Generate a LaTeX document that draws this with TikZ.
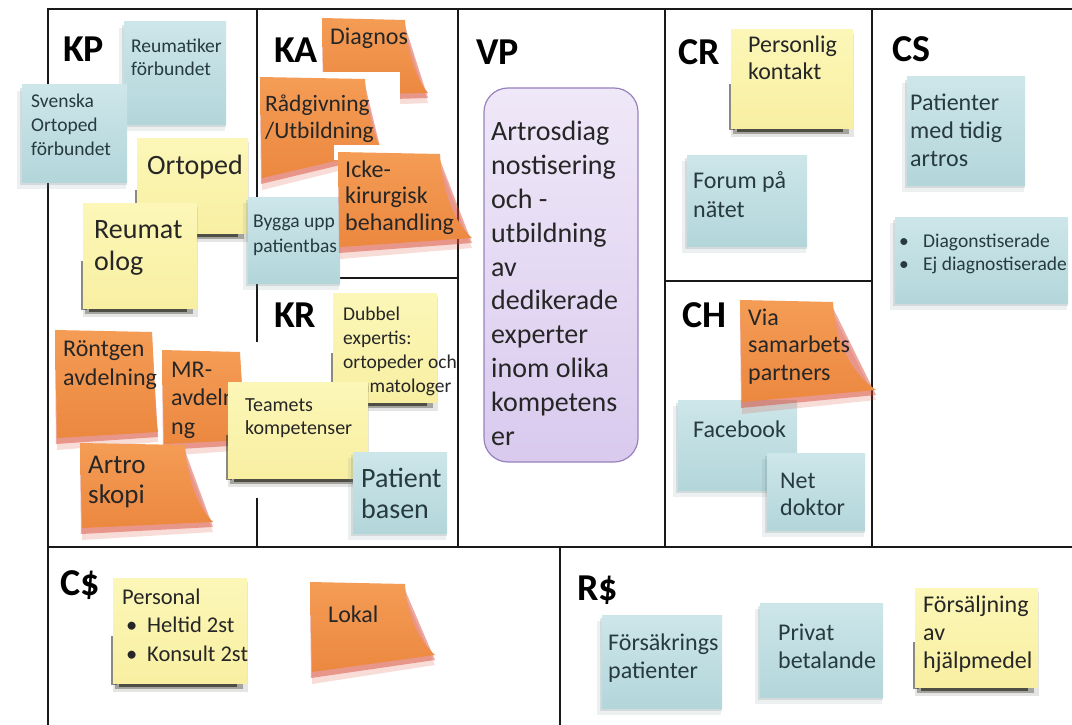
\documentclass[tikz,border=0pt]{standalone}
\usepackage{fontspec}
\setmainfont{Carlito}
\definecolor{bluetop}{HTML}{CDE6E9}
\definecolor{bluebot}{HTML}{B3D6DB}
\definecolor{yeltop}{HTML}{FCF7B8}
\definecolor{yelbot}{HTML}{F8EFA2}
\definecolor{oratop}{HTML}{F49C55}
\definecolor{orabot}{HTML}{EC8840}
\definecolor{orashadow}{HTML}{D8412C}
\definecolor{yelshadow}{HTML}{2B2A1E}
\definecolor{blueshadow}{HTML}{6F8587}
\definecolor{vptop}{HTML}{EFE8F8}
\definecolor{vpbot}{HTML}{D9CAEE}
\definecolor{vpline}{HTML}{9882BE}
\definecolor{inkdark}{HTML}{262626}
\definecolor{inkblue}{HTML}{263A40}

% blue sticky note: x1 y1 x2 y2
\newcommand\bluenote[4]{%
  \fill[blueshadow, opacity=.12] (#1-5,#2+6) rectangle (#3-1,#4+7);
  \fill[blueshadow, opacity=.2] (#1-2,#2+3) rectangle (#3,#4+3);
  \path[top color=bluetop, bottom color=bluebot] (#1,#2) rectangle (#3,#4);}
% yellow sticky note: x1 y1 x2 y2
\newcommand\yellownote[4]{%
  \fill[yelshadow, opacity=.12] (#1,#2+4) rectangle (#3+1,#4+9);
  \fill[yelshadow, opacity=.35] (#1+2,#4-6) rectangle (#3-4,#4+6);
  \fill[yelshadow, opacity=.7] (#1+6,#4-6) rectangle (#3-10,#4+4);
  \fill[yelshadow, opacity=.55] (#1-2,{#2+0.55*(#4-#2)}) rectangle (#1+4,#4+2);
  \path[top color=yeltop, bottom color=yelbot] (#1,#2) rectangle (#3,#4);}
% orange sticky note with a lifted corner: x1 y1 x2 y2 tipx tipy
\newcommand\orangenote[6]{%
  \fill[orashadow, opacity=.18] (#1+2,#2+12) -- (#3,#2+14) -- (#5,#6+10) -- (#1+2,#4+12) -- cycle;
  \fill[orashadow, opacity=.45] (#1,#2+6) -- (#3,#2+8) -- (#5,#6+5) -- (#1+1,#4+6) -- cycle;
  \path[top color=oratop, bottom color=orabot] (#1,#2) -- (#3,#2+2)
    .. controls (#3+3,{#2+0.6*(#6-#2)}) and ({#5-0.35*(#5-#3)},#6-10) .. (#5,#6)
    -- (#1+2,#4) -- cycle;}

% multi-line texts are placed by the baseline of their last line
\tikzset{
  ntxt/.style={anchor=base west, inner sep=0pt, align=left, text=inkdark},
  btxt/.style={ntxt, text=inkblue},
  sz/.style 2 args={font=\fontsize{#1}{#2}\selectfont},
  blocktitle/.style={anchor=base west, inner sep=0pt, font=\fontsize{38}{40}\selectfont\bfseries, text=black},
  canvasline/.style={line width=2.6pt, draw=black!90}
}

\begin{document}
\begin{tikzpicture}[x=1pt,y=-1pt]
\fill[white] (0,0) rectangle (1072,725);
\useasboundingbox (0,0) rectangle (1072,725);

% canvas frame and block dividers
\draw[canvasline] (1072,9) -- (48,9) -- (48,725);
\draw[canvasline] (48,547) -- (1072,547);
\draw[canvasline] (257,9) -- (257,342);
\draw[canvasline] (257,498) -- (257,547);
\draw[canvasline] (458,9) -- (458,547);
\draw[canvasline] (665,9) -- (665,547);
\draw[canvasline] (872,9) -- (872,547);
\draw[canvasline] (257,278) -- (458,278);
\draw[canvasline] (665,281) -- (872,281);
\draw[canvasline] (560,547) -- (560,725);

% block titles
\node[blocktitle] (kp) at (63,62) {KP};
\node[blocktitle] (ka) at (274,63) {KA};
\node[blocktitle] (vp) at (476,65) {VP};
\node[blocktitle] (cr) at (678,65) {CR};
\node[blocktitle] (cs) at (892,62) {CS};
\node[blocktitle] (kr) at (274,327) {KR};
\node[blocktitle] (ch) at (682,327) {CH};
\node[blocktitle] (cost) at (60,595) {C\$};
\node[blocktitle] (rev) at (577,600) {R\$};

% key partners
\bluenote{124}{22}{226}{124}
\node[btxt, sz={19.5}{23}] (reumforb) at (131,76) {Reumatiker\\förbundet};
\bluenote{22}{85}{127}{182}
\node[btxt, sz={19.5}{24}] (svenska) at (31,155) {Svenska\\Ortoped\\förbundet};
\yellownote{137}{138}{248}{233}
\node[ntxt, sz={28}{32}] (ortoped) at (147,174) {Ortoped};
\yellownote{83}{203}{197}{308}
\node[ntxt, sz={28}{32}] (reumat) at (94,270) {Reumat\\olog};
\orangenote{55}{330}{152}{438}{158}{432}
\node[ntxt, sz={24}{29}] (rontgen) at (63,385) {Röntgen\\avdelning};
\orangenote{162}{350}{240}{444}{246}{440}
\node[ntxt, sz={24}{28.5}] (mr) at (171,434) {MR-\\avdelni\\ng};
\orangenote{80}{443}{185}{528}{213}{522}
\node[ntxt, sz={27}{30}] (artro) at (88,503) {Artro\\skopi};

% key activities
\orangenote{322}{18}{405}{95}{428}{93}
\node[ntxt, sz={24}{28}] (diagnos) at (330,45) {Diagnos};
\fill[white] (262,72) rectangle (400,150);
\orangenote{260}{77}{365}{178}{382}{150}
\node[ntxt, sz={23.5}{26.5}] (radgiv) at (265,138.5) {Rådgivning\\/Utbildning};
\bluenote{248}{197}{340}{283}
\node[btxt, sz={19.5}{25}] (bygga) at (253,252) {Bygga upp\\patientbas};
\fill[white] (334,145) rectangle (445,160);
\orangenote{338}{152}{440}{247}{472}{238}
\node[ntxt, sz={24}{26.5}] (icke) at (345,230) {Icke-\\kirurgisk\\behandling};

% key resources
\yellownote{333}{293}{437}{402}
\node[ntxt, sz={19.5}{24}] (dubbel) at (343,392) {Dubbel\\expertis:\\ortopeder och\\reumatologer};
\yellownote{228}{382}{368}{478}
\node[ntxt, sz={20}{23}] (teamets) at (245,434) {Teamets\\kompetenser};
\bluenote{353}{452}{447}{533}
\node[btxt, sz={28}{31}] (patbas) at (361,518) {Patient\\basen};

% value proposition
\path[draw=vpline, line width=1.2pt, top color=vptop, bottom color=vpbot, rounded corners=24pt] (484,88) rectangle (638,462);
\node[ntxt, sz={28}{33.8}] (vptext) at (491,445) {Artrosdiag\\nostisering\\och -\\utbildning\\av\\dedikerade\\experter\\inom olika\\kompetens\\er};

% customer relationships
\yellownote{731}{30}{853}{128}
\node[ntxt, sz={24}{27}] (personlig) at (748,80) {Personlig\\kontakt};
\bluenote{687}{155}{807}{246}
\node[btxt, sz={24}{29}] (forum) at (693,217) {Forum på\\nätet};

% channels
\bluenote{678}{400}{797}{490}
\node[btxt, sz={24}{28}] (facebook) at (693,437) {Facebook};
\bluenote{767}{453}{865}{530}
\node[btxt, sz={24}{27}] (netdoktor) at (780,515) {Net\\doktor};
\orangenote{740}{300}{833}{402}{876}{390}
\node[ntxt, sz={24}{27.5}] (viasam) at (748,380) {Via\\samarbets\\partners};

% customer segments
\bluenote{907}{77}{1025}{185}
\node[btxt, sz={24}{28}] (patienter) at (910,166) {Patienter\\med tidig\\artros};
\bluenote{895}{217}{1068}{303}
\node[btxt, sz={19.5}{23}] (segments) at (899,270) {\makebox[24pt][l]{•}Diagonstiserade\\\makebox[24pt][l]{•}Ej diagnostiserade};

% cost structure
\yellownote{113}{578}{247}{683}
\node[ntxt, sz={22.5}{28.5}] (personal) at (122,661) {Personal\\\hspace*{4pt}\makebox[21pt][l]{•}Heltid 2st\\\hspace*{4pt}\makebox[21pt][l]{•}Konsult 2st};
\orangenote{310}{582}{405}{672}{435}{655}
\node[ntxt, sz={24}{28}] (lokal) at (328,622) {Lokal};

% revenue streams
\bluenote{602}{615}{722}{708}
\node[btxt, sz={24}{28}] (forsak) at (608,678) {Försäkrings\\patienter};
\bluenote{760}{603}{883}{697}
\node[btxt, sz={24}{28}] (privat) at (778,668) {Privat\\betalande};
\yellownote{915}{588}{1038}{687}
\node[ntxt, sz={24}{28}] (forsalj) at (923,668) {Försäljning\\av\\hjälpmedel};
\end{tikzpicture}
\end{document}
